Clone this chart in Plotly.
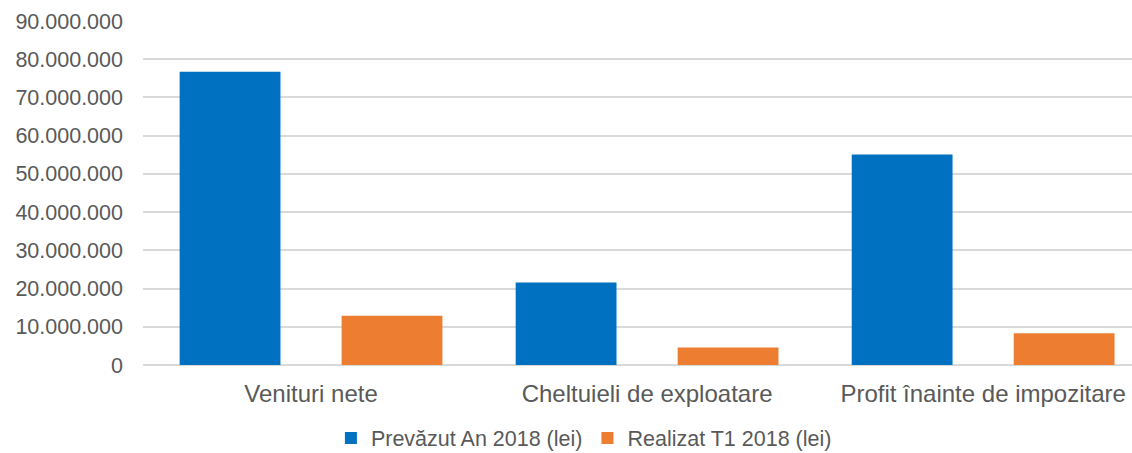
import plotly.graph_objects as go

categories = ["Venituri nete", "Cheltuieli de exploatare", "Profit înainte de impozitare"]
prevazut = [76_700_000, 21_600_000, 55_100_000]
realizat = [12_900_000, 4_600_000, 8_300_000]
series_names = ["Prevăzut An 2018 (lei)", "Realizat T1 2018 (lei)"]
y_ticks = [0, 10_000_000, 20_000_000, 30_000_000, 40_000_000, 50_000_000,
           60_000_000, 70_000_000, 80_000_000, 90_000_000]

FONT = "Liberation Sans, Arial, sans-serif"
GREY = "#595959"

fig = go.Figure()
fig.add_trace(go.Bar(
    x=categories, y=prevazut, name=series_names[0],
    marker=dict(color="#0070C0", line=dict(width=0)),
    width=0.3, offset=-0.391,
))
fig.add_trace(go.Bar(
    x=categories, y=realizat, name=series_names[1],
    marker=dict(color="#ED7D31", line=dict(width=0)),
    width=0.3, offset=0.091,
))

fig.update_layout(
    width=1132, height=453,
    margin=dict(l=143, r=0, t=21, b=88, pad=0, autoexpand=False),
    paper_bgcolor="white", plot_bgcolor="white",
    barmode="overlay",
    separators=",.",
    font=dict(family=FONT, color=GREY, size=21),
    hovermode=False,
    showlegend=True,
    legend=dict(
        orientation="h", x=0.19, xanchor="left", y=-0.212, yanchor="middle",
        font=dict(family=FONT, size=21.5, color=GREY),
        itemwidth=30, tracegroupgap=0, bgcolor="rgba(0,0,0,0)",
    ),
    xaxis=dict(
        range=[-0.5, 2.443], showgrid=False, showline=False, zeroline=False,
        ticks="", tickfont=dict(family=FONT, size=24, color=GREY),
        ticklabelstandoff=12, automargin=False,
        fixedrange=True,
    ),
    yaxis=dict(
        range=[0, 90_000_000], tickvals=y_ticks, tickformat=",d",
        showgrid=True, gridcolor="#D9D9D9", gridwidth=1.5,
        zeroline=True, zerolinecolor="#D9D9D9", zerolinewidth=1.5,
        showline=False, ticks="", ticklabelstandoff=19, automargin=False,
        tickfont=dict(family=FONT, size=21.5, color=GREY),
        fixedrange=True,
    ),
)

fig.write_html(
    "out.html",
    config={"displayModeBar": False},
    post_script="document.body.style.margin='0px';document.body.style.overflow='hidden';",
)
